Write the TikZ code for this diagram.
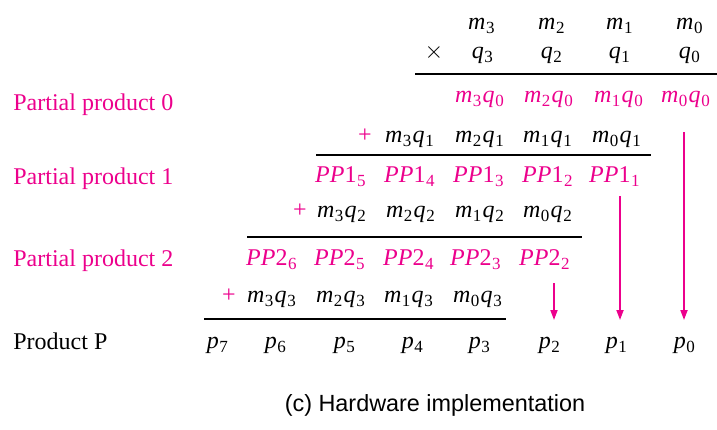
\documentclass[tikz,border=0pt]{standalone}
\usepackage{fontspec}
\setmainfont{Liberation Serif}
\newfontfamily\capfont{Liberation Sans}
\usetikzlibrary{arrows.meta}
\definecolor{pinkc}{RGB}{236,0,140}
\newcommand\sbx[1]{\kern0.3pt\raisebox{-2.4pt}{\fontsize{8.5}{10}\selectfont #1}\kern0.6pt}
\newcommand\mqx[2]{\textit{m}\sbx{#1}\textit{q}\sbx{#2}}
\newcommand\ppx[2]{\textit{PP}#1\sbx{#2}}
\newcommand\pvx[1]{\textit{p}\sbx{#1}}
\newcommand\mvx[1]{\textit{m}\sbx{#1}}
\newcommand\qvx[1]{\textit{q}\sbx{#1}}
\tikzset{
  txt/.style={anchor=base, inner sep=0pt, font=\fontsize{12}{14}\selectfont},
  lbl/.style={txt, anchor=base west},
  pk/.style={text=pinkc},
  rule/.style={line width=1pt},
  arr/.style={draw=pinkc, line width=0.9pt, -{Triangle[width=3.5pt,length=5pt]}}
}
\begin{document}
\begin{tikzpicture}[x=0.5pt,y=-0.5pt]
\useasboundingbox (0,0) rectangle (717,429);
% multiplicand and multiplier
\node[txt] (m3) at (482,29) {\mvx{3}};
\node[txt] (m2) at (552,29) {\mvx{2}};
\node[txt] (m1) at (620,29) {\mvx{1}};
\node[txt] (m0) at (690,29) {\mvx{0}};
\node[txt] (times) at (434,58) {$\times$};
\node[txt] (q3) at (483,58) {\qvx{3}};
\node[txt] (q2) at (552,58) {\qvx{2}};
\node[txt] (q1) at (620,58) {\qvx{1}};
\node[txt] (q0) at (690,58) {\qvx{0}};
\coordinate (r1a) at (415,74); \coordinate (r1b) at (717,74);
\draw[rule] (r1a) -- (r1b);
% partial product 0
\node[lbl,pk] (lab0) at (13,110) {Partial product 0};
\node[txt,pk] (a3) at (480,102) {\mqx{3}{0}};
\node[txt,pk] (a2) at (549,102) {\mqx{2}{0}};
\node[txt,pk] (a1) at (619,102) {\mqx{1}{0}};
\node[txt,pk] (a0) at (686,102) {\mqx{0}{0}};
% row q1
\node[txt,pk] (plus1) at (365,142) {+};
\node[txt] (b3) at (410,142) {\mqx{3}{1}};
\node[txt] (b2) at (480,142) {\mqx{2}{1}};
\node[txt] (b1) at (548,142) {\mqx{1}{1}};
\node[txt] (b0) at (617,142) {\mqx{0}{1}};
\coordinate (r2a) at (316,155); \coordinate (r2b) at (651,155);
\draw[rule] (r2a) -- (r2b);
% partial product 1
\node[lbl,pk] (lab1) at (13,184) {Partial product 1};
\node[txt,pk] (c5) at (341,182) {\ppx{1}{5}};
\node[txt,pk] (c4) at (410,182) {\ppx{1}{4}};
\node[txt,pk] (c3) at (479,182) {\ppx{1}{3}};
\node[txt,pk] (c2) at (548,182) {\ppx{1}{2}};
\node[txt,pk] (c1) at (615,182) {\ppx{1}{1}};
% row q2
\node[txt,pk] (plus2) at (300,217) {+};
\node[txt] (d3) at (342,217) {\mqx{3}{2}};
\node[txt] (d2) at (411,217) {\mqx{2}{2}};
\node[txt] (d1) at (480,217) {\mqx{1}{2}};
\node[txt] (d0) at (548,217) {\mqx{0}{2}};
\coordinate (r3a) at (247,237); \coordinate (r3b) at (582,237);
\draw[rule] (r3a) -- (r3b);
% partial product 2
\node[lbl,pk] (lab2) at (13,266) {Partial product 2};
\node[txt,pk] (e6) at (272,265) {\ppx{2}{6}};
\node[txt,pk] (e5) at (340,265) {\ppx{2}{5}};
\node[txt,pk] (e4) at (409,265) {\ppx{2}{4}};
\node[txt,pk] (e3) at (476,265) {\ppx{2}{3}};
\node[txt,pk] (e2) at (545,265) {\ppx{2}{2}};
% row q3
\node[txt,pk] (plus3) at (229,302) {+};
\node[txt] (f3) at (272,302) {\mqx{3}{3}};
\node[txt] (f2) at (341,302) {\mqx{2}{3}};
\node[txt] (f1) at (409,302) {\mqx{1}{3}};
\node[txt] (f0) at (478,302) {\mqx{0}{3}};
\coordinate (r4a) at (204,319); \coordinate (r4b) at (506,319);
\draw[rule] (r4a) -- (r4b);
% product
\node[lbl] (labp) at (13,349) {Product P};
\node[txt] (p7) at (218,348) {\pvx{7}};
\node[txt] (p6) at (276,348) {\pvx{6}};
\node[txt] (p5) at (345,348) {\pvx{5}};
\node[txt] (p4) at (413,348) {\pvx{4}};
\node[txt] (p3) at (480,348) {\pvx{3}};
\node[txt] (p2) at (550,348) {\pvx{2}};
\node[txt] (p1) at (617,348) {\pvx{1}};
\node[txt] (p0) at (685,348) {\pvx{0}};
% arrows
\coordinate (s2) at (554,283); \coordinate (t2) at (554,320);
\coordinate (s1) at (620,196); \coordinate (t1) at (620,320);
\coordinate (s0) at (684,132); \coordinate (t0) at (684,320);
\draw[arr] (s2) -- (t2);
\draw[arr] (s1) -- (t1);
\draw[arr] (s0) -- (t0);
% caption
\node[anchor=base, inner sep=0pt, font=\capfont\fontsize{11.7}{14}\selectfont] (cap) at (435,411) {(c) Hardware implementation};
\end{tikzpicture}
\end{document}
